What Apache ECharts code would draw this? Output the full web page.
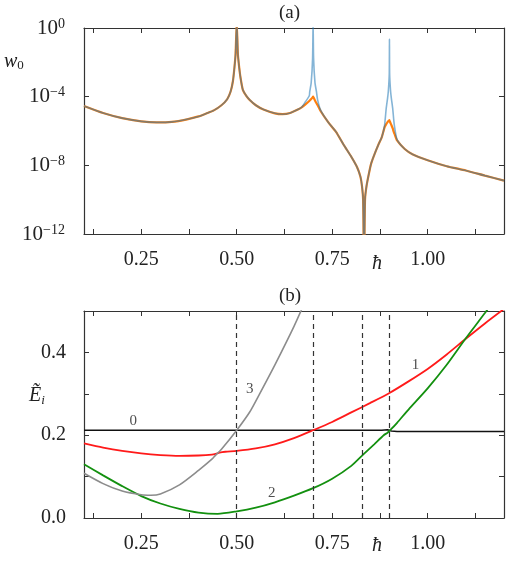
<!DOCTYPE html>
<html>
<head>
<meta charset="utf-8">
<script src="https://cdn.jsdelivr.net/npm/echarts@6/dist/echarts.min.js"></script>
<style>
  html, body { margin: 0; padding: 0; background: #fff; }
  #main { width: 507px; height: 561px; }
</style>
</head>
<body>
<div id="main"></div>
<script>
// Panel (a): w0 on a log scale, stored as exponents (log10)
const hbarA = [0.1, 0.15, 0.2, 0.25, 0.29, 0.33, 0.37, 0.4, 0.42, 0.44, 0.46, 0.475, 0.484, 0.49, 0.494, 0.497,
  0.5, 0.503, 0.506, 0.51, 0.516, 0.525, 0.534, 0.55, 0.57, 0.6, 0.62, 0.64, 0.66, 0.67, 0.68, 0.69, 0.6912,
  0.695, 0.6987, 0.7, 0.7013, 0.705, 0.7088, 0.712, 0.72, 0.74, 0.76, 0.78, 0.8, 0.815, 0.824, 0.828, 0.831,
  0.8335, 0.836, 0.84, 0.846, 0.852, 0.86, 0.87, 0.88, 0.887, 0.8915, 0.895, 0.897, 0.8995, 0.9, 0.9005, 0.903,
  0.905, 0.9085, 0.911, 0.913, 0.92, 0.94, 0.96, 1.0, 1.05, 1.1, 1.15, 1.2];
const expOrange = [-4.54, -4.95, -5.25, -5.44, -5.5, -5.47, -5.32, -5.15, -4.98, -4.8, -4.5, -4.15, -3.7, -3.1, -2.3, -1.5,
  0.3, -1.5, -2.2, -2.9, -3.6, -3.95, -4.19, -4.5, -4.75, -4.97, -5.02, -4.95, -4.75, -4.62, -4.45, -4.25, -4.22,
  -4.13, -4.04, -4.0, -4.05, -4.22, -4.38, -4.5, -4.85, -5.5, -6.05, -6.8, -7.5, -8.1, -8.66, -9.2, -10.0,
  -14, -10.0, -9.2, -8.5, -7.9, -7.4, -6.85, -6.35, -5.8, -5.6, -5.48, -5.43, -5.37, -5.36, -5.4, -5.55,
  -5.65, -5.85, -6.04, -6.15, -6.55, -7.05, -7.35, -7.7, -8.05, -8.3, -8.6, -8.89];
const expBlue = [-4.54, -4.95, -5.25, -5.44, -5.5, -5.47, -5.32, -5.15, -4.98, -4.8, -4.5, -4.15, -3.7, -3.1, -2.3, -1.5,
  0.3, -1.5, -2.2, -2.9, -3.6, -3.95, -4.19, -4.5, -4.75, -4.97, -5.02, -4.95, -4.75, -4.62, -4.3, -3.95, -3.71,
  -3.2, -1.77, 0.3, -1.77, -3.2, -3.71, -4.2, -4.8, -5.5, -6.05, -6.8, -7.5, -8.1, -8.66, -9.2, -10.0,
  -14, -10.0, -9.2, -8.5, -7.9, -7.4, -6.85, -6.35, -5.7, -4.68, -4.1, -3.7, -2.7, -0.64, -2.7, -3.7,
  -4.1, -4.68, -5.3, -5.7, -6.5, -7.05, -7.35, -7.7, -8.05, -8.3, -8.6, -8.89];

// Panel (b): energies
const hBlack = [0.1, 0.3, 0.5, 0.7, 0.88, 0.895, 0.905, 0.92, 1.0, 1.2];
const eBlack = [0.212, 0.212, 0.212, 0.212, 0.212, 0.213, 0.21, 0.209, 0.209, 0.209];
const hRed = [0.1, 0.15, 0.2, 0.25, 0.3, 0.35, 0.4, 0.435, 0.445, 0.455, 0.47, 0.5, 0.55, 0.6, 0.65, 0.7, 0.75,
  0.8, 0.85, 0.9, 0.95, 1.0, 1.05, 1.1, 1.15, 1.2];
const eRed = [0.18, 0.17, 0.162, 0.156, 0.152, 0.15, 0.151, 0.153, 0.155, 0.158, 0.16, 0.162, 0.168, 0.178, 0.193,
  0.212, 0.232, 0.255, 0.278, 0.302, 0.33, 0.36, 0.395, 0.433, 0.47, 0.505];
const hGreen = [0.1, 0.15, 0.2, 0.25, 0.3, 0.35, 0.4, 0.45, 0.5, 0.55, 0.6, 0.65, 0.7, 0.75, 0.8, 0.833, 0.86,
  0.885, 0.895, 0.905, 0.92, 0.95, 1.0, 1.05, 1.1, 1.15, 1.17];
const eGreen = [0.13, 0.103, 0.077, 0.053, 0.035, 0.022, 0.013, 0.01, 0.016, 0.025, 0.038, 0.054, 0.072, 0.095,
  0.126, 0.155, 0.178, 0.2, 0.206, 0.215, 0.23, 0.262, 0.313, 0.37, 0.434, 0.495, 0.52];
const hGray = [0.1, 0.15, 0.2, 0.25, 0.275, 0.3, 0.35, 0.4, 0.435, 0.445, 0.46, 0.5, 0.534, 0.56, 0.6, 0.65, 0.68];
const eGray = [0.108, 0.083, 0.065, 0.056, 0.055, 0.058, 0.08, 0.115, 0.142, 0.152, 0.166, 0.212, 0.256, 0.3,
  0.37, 0.463, 0.525];

const dashedH = [0.5, 0.7, 0.833, 0.9];
const curveNames = ['0', '1', '2', '3'];
const curveNameH = [0.229, 0.968, 0.592, 0.534];
const curveNameE = [0.234, 0.369, 0.06, 0.311];

const xTicks = [0.125, 0.25, 0.375, 0.5, 0.625, 0.75, 0.875, 1.0, 1.125];
const xLabels = [0.25, 0.5, 0.75, 1.0];
const yLabelsB = [0, 0.2, 0.4];

const FONT = 'Liberation Serif';
const INK = '#222';
const FRAME = '#333';

const pairs = (xs, ys) => xs.map((x, i) => [x, ys[i]]);
const pairsLog = (xs, es) => xs.map((x, i) => [x, Math.pow(10, es[i])]);

const tickStyle = { inside: true, length: 5, lineStyle: { color: FRAME, width: 1 } };
const lineStyleFrame = { show: true, lineStyle: { color: FRAME, width: 1.2 } };

// x axes: bottom with labels, top as mirror, for each grid
const makeX = (grid, pos, showLabels) => ({
  type: 'value', gridIndex: grid, position: pos, min: 0.1, max: 1.2,
  axisLine: { ...lineStyleFrame, onZero: false },
  axisTick: { ...tickStyle, customValues: xTicks },
  axisLabel: {
    show: showLabels, customValues: xLabels, margin: 16,
    fontFamily: FONT, fontSize: 20, color: INK,
    formatter: (v) => v.toFixed(2)
  },
  splitLine: { show: false }
});

const supFmt = (v) => {
  const e = Math.round(Math.log10(v));
  return '{b|10}{s|' + (e < 0 ? '\u2212' + (-e) : String(e)) + '}';
};

const makeYA = (pos, showLabels) => ({
  type: 'log', gridIndex: 0, position: pos, logBase: 10, min: 1e-12, max: 1, interval: 4,
  axisLine: lineStyleFrame,
  axisTick: tickStyle,
  axisLabel: {
    show: showLabels, margin: 19, formatter: supFmt,
    rich: {
      b: { fontFamily: FONT, fontSize: 21, color: INK, lineHeight: 22 },
      s: { fontFamily: FONT, fontSize: 14, color: INK, verticalAlign: 'top', lineHeight: 10 }
    }
  },
  splitLine: { show: false }
});

const makeYB = (pos, showLabels) => ({
  type: 'value', gridIndex: 1, position: pos, min: 0, max: 0.5, interval: 0.1,
  axisLine: lineStyleFrame,
  axisTick: tickStyle,
  axisLabel: {
    show: showLabels, margin: 18, customValues: yLabelsB,
    fontFamily: FONT, fontSize: 20, color: INK,
    formatter: (v) => v.toFixed(1)
  },
  splitLine: { show: false }
});

const lineSeries = (xi, yi, data, color, width, opacity, smooth) => ({
  type: 'line', xAxisIndex: xi, yAxisIndex: yi, data: data,
  showSymbol: false, symbol: 'none', clip: true, silent: true,
  smooth: smooth,
  lineStyle: { color: color, width: width, opacity: opacity }
});

const option = {
  animation: false,
  grid: [
    { left: 84, top: 28, width: 420, height: 206 },
    { left: 84, top: 311, width: 420, height: 207 }
  ],
  xAxis: [makeX(0, 'bottom', true), makeX(0, 'top', false), makeX(1, 'bottom', true), makeX(1, 'top', false)],
  yAxis: [makeYA('left', true), makeYA('right', false), makeYB('left', true), makeYB('right', false)],
  series: [
    lineSeries(0, 0, pairsLog(hbarA, expOrange), '#ff7f0e', 2.2, 1, 0.2),
    lineSeries(0, 0, pairsLog(hbarA, expBlue), '#1f77b4', 1.6, 0.55, 0.2),
    {
      ...lineSeries(2, 2, pairs(hBlack, eBlack), '#111', 1.6, 1, false),
      markLine: {
        silent: true, symbol: 'none', label: { show: false },
        lineStyle: { color: FRAME, width: 1.2, type: [5, 4] },
        data: dashedH.map((v) => ({ xAxis: v }))
      }
    },
    lineSeries(2, 2, pairs(hRed, eRed), '#ff1a1a', 1.8, 1, 0.25),
    lineSeries(2, 2, pairs(hGreen, eGreen), '#13900f', 1.8, 1, 0.25),
    lineSeries(2, 2, pairs(hGray, eGray), '#8c8c8c', 1.6, 1, 0.25),
    {
      type: 'scatter', xAxisIndex: 2, yAxisIndex: 2, symbolSize: 0, silent: true,
      data: curveNames.map((n, i) => [curveNameH[i], curveNameE[i], n]),
      label: {
        show: true, position: 'inside', formatter: (p) => p.data[2],
        fontFamily: FONT, fontSize: 15, color: INK
      }
    }
  ],
  graphic: [
    { type: 'text', left: 279, top: 4, style: { text: '(a)', font: '19px "Liberation Serif"', fill: INK } },
    { type: 'text', left: 279, top: 287, style: { text: '(b)', font: '19px "Liberation Serif"', fill: INK } },
    { type: 'text', left: 372, top: 254, style: { text: '\u0127', font: 'italic 20px "Liberation Serif"', fill: INK } },
    { type: 'text', left: 372, top: 536, style: { text: '\u0127', font: 'italic 20px "Liberation Serif"', fill: INK } },
    {
      type: 'text', left: 4, top: 52,
      style: {
        text: '{i|w}{s|0}',
        rich: {
          i: { fontFamily: FONT, fontStyle: 'italic', fontSize: 20, fill: INK, lineHeight: 20 },
          s: { fontFamily: FONT, fontSize: 13, fill: INK, verticalAlign: 'bottom', lineHeight: 14 }
        }
      }
    },
    {
      type: 'text', left: 29, top: 386,
      style: {
        text: '{i|\u1EBC}{s|i}',
        rich: {
          i: { fontFamily: FONT, fontStyle: 'italic', fontSize: 20, fill: INK, lineHeight: 22 },
          s: { fontFamily: FONT, fontStyle: 'italic', fontSize: 13, fill: INK, verticalAlign: 'bottom', lineHeight: 14 }
        }
      }
    }
  ]
};

const chart = echarts.init(document.getElementById('main'));
chart.setOption(option);
</script>
</body>
</html>
